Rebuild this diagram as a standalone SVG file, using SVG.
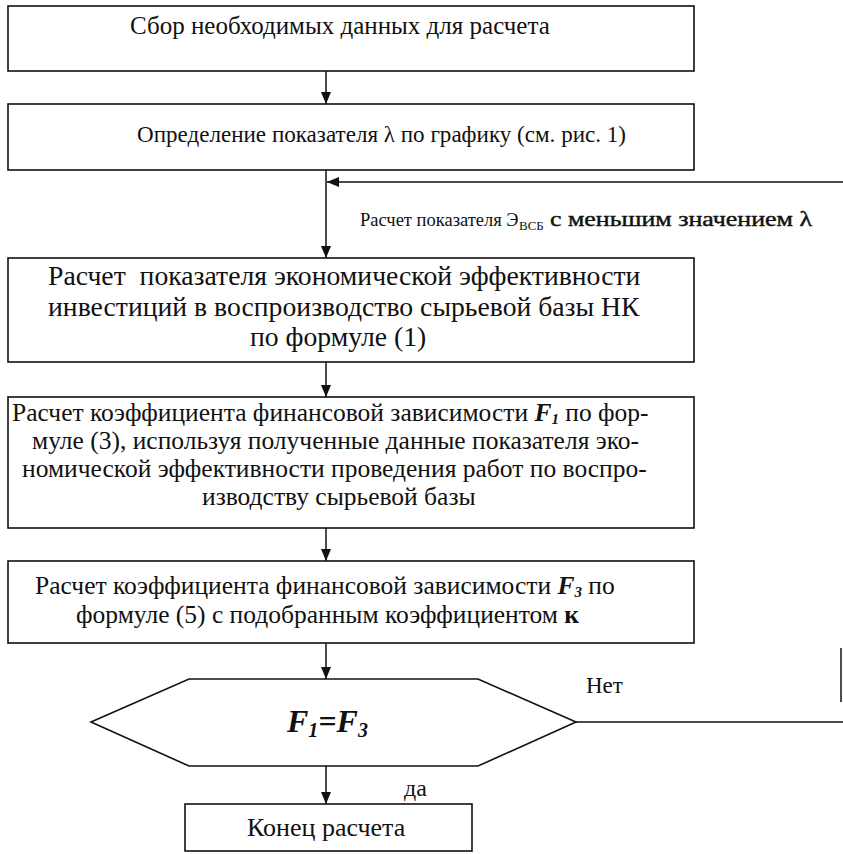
<svg xmlns="http://www.w3.org/2000/svg" width="843" height="854" viewBox="0 0 843 854" font-family="'Liberation Serif', 'DejaVu Serif', serif">
<style>
.box{fill:#fff;stroke:#111;stroke-width:1.6}
.t{font-family:'Liberation Serif','DejaVu Serif',serif;font-size:25.5px;fill:#111}
.big{font-size:27.7px}
.c{stroke:#111;stroke-width:1.5;fill:none}
.bi{font-weight:bold;font-style:italic}
.b{font-weight:bold}
</style>
<defs>
<marker id="ah" viewBox="0 0 12 10" refX="12" refY="5" markerWidth="12" markerHeight="10" markerUnits="userSpaceOnUse" orient="auto"><path d="M0,0 L12,5 L0,10 z" fill="#111"/></marker>
</defs>
<rect width="843" height="854" fill="#fff"/>
<g id="connectors">
<line class="c" x1="326" y1="71" x2="326" y2="104" marker-end="url(#ah)"/>
<line class="c" x1="326" y1="170" x2="326" y2="258" marker-end="url(#ah)"/>
<line class="c" x1="843" y1="182" x2="327" y2="182" marker-end="url(#ah)"/>
<line class="c" x1="326" y1="362" x2="326" y2="397" marker-end="url(#ah)"/>
<line class="c" x1="326" y1="528" x2="326" y2="561" marker-end="url(#ah)"/>
<line class="c" x1="326" y1="643" x2="326" y2="679" marker-end="url(#ah)"/>
<line class="c" x1="326" y1="766" x2="326" y2="804" marker-end="url(#ah)"/>
<line class="c" x1="576" y1="722" x2="843" y2="722"/>
<line class="c" x1="841" y1="648" x2="841" y2="702" stroke="#999"/>
<text class="t" x="360" y="226" style="font-size:18.5px">Расчет показателя Э</text>
<text class="t" x="519" y="230" style="font-size:13px">ВСБ</text>
<text class="t" x="550" y="226" style="font-size:20px;stroke:#111;stroke-width:0.4" textLength="262" lengthAdjust="spacingAndGlyphs">с меньшим значением λ</text>
<text class="t" x="586" y="693" style="font-size:23px">Нет</text>
<text class="t" x="404" y="796" style="font-size:24px">да</text>
</g>
<g id="n1">
<rect class="box" x="8" y="6" width="686" height="65"/>
<text class="t" x="130" y="34" style="font-size:25px">Сбор необходимых данных для расчета</text>
</g>
<g id="n2">
<rect class="box" x="8" y="104" width="686" height="66"/>
<text class="t" x="137" y="142" style="font-size:23.5px" textLength="489" lengthAdjust="spacingAndGlyphs">Определение показателя λ по графику (см. рис. 1)</text>
</g>
<g id="n3">
<rect class="box" x="8" y="258" width="686" height="104"/>
<text class="t big" x="48" y="285" xml:space="preserve">Расчет  показателя экономической эффективности</text>
<text class="t big" x="48" y="316">инвестиций в воспроизводство сырьевой базы НК</text>
<text class="t big" x="250" y="346">по формуле (1)</text>
</g>
<g id="n4">
<rect class="box" x="8" y="397" width="686" height="131"/>
<text class="t" x="12" y="421">Расчет коэффициента финансовой зависимости <tspan class="bi">F</tspan><tspan class="bi" font-size="15" dy="3">1</tspan><tspan dy="-3"> по фор-</tspan></text>
<text class="t" x="32" y="449">муле (3), используя полученные данные показателя эко-</text>
<text class="t" x="22" y="477">номической эффективности проведения работ по воспро-</text>
<text class="t" x="202" y="505">изводству сырьевой базы</text>
</g>
<g id="n5">
<rect class="box" x="8" y="561" width="686" height="82"/>
<text class="t" x="35" y="594">Расчет коэффициента финансовой зависимости <tspan class="bi">F</tspan><tspan class="bi" font-size="15" dy="3">3</tspan><tspan dy="-3"> по</tspan></text>
<text class="t" x="76" y="623">формуле (5) с подобранным коэффициентом <tspan class="b">к</tspan></text>
</g>
<g id="n6">
<polygon class="box" points="91,722 189,679 478,679 576,722 478,766 189,766"/>
<text class="t bi" x="287" y="732" style="font-size:32px">F<tspan font-size="20" dy="5">1</tspan><tspan dy="-5">=F</tspan><tspan font-size="20" dy="5">3</tspan></text>
</g>
<g id="n7">
<rect class="box" x="185" y="804" width="287" height="47"/>
<text class="t" x="247" y="836" style="font-size:26px">Конец расчета</text>
</g>
</svg>
